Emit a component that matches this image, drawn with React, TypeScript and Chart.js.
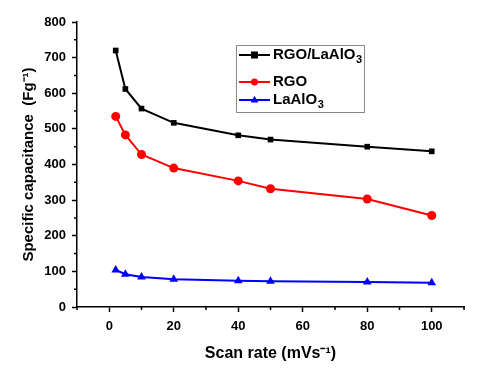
import React, { useEffect, useRef } from "react";
import { Chart, registerables } from "chart.js";
Chart.register(...registerables);

const scanRates = [2, 5, 10, 20, 40, 50, 80, 100];
const rgoLaAlO3 = [720, 612, 557, 517, 482, 470, 450, 437];
const rgo = [535, 483, 428, 390, 354, 332, 303, 257];
const laAlO3 = [104, 92, 84, 78, 74, 72, 70, 68];
const seriesNames = ["RGO/LaAlO3", "RGO", "LaAlO3"];
const xMajorTicks = [0, 20, 40, 60, 80, 100];
const xMinorTicks = [-10, 10, 30, 50, 70, 90, 110];
const yMinorTicks = [50, 150, 250, 350, 450, 550, 650, 750];

const FONT = "'Liberation Sans', Arial, sans-serif";

const minorTicksPlugin = {
  id: "minorTicks",
  afterDraw(chart: any) {
    const ctx = chart.ctx;
    const xs = chart.scales.x;
    const ys = chart.scales.y;
    ctx.save();
    ctx.strokeStyle = "#000";
    ctx.lineWidth = 1.5;
    ctx.beginPath();
    xMinorTicks.forEach((v) => {
      const px = xs.getPixelForValue(v);
      ctx.moveTo(px, ys.bottom);
      ctx.lineTo(px, ys.bottom + 3);
    });
    yMinorTicks.forEach((v) => {
      const py = ys.getPixelForValue(v);
      ctx.moveTo(xs.left, py);
      ctx.lineTo(xs.left - 3, py);
    });
    ctx.stroke();
    ctx.restore();
  },
};

function drawMarker(ctx: any, style: string, x: number, y: number, r: number) {
  ctx.beginPath();
  if (style === "rect") {
    ctx.rect(x - r, y - r, 2 * r, 2 * r);
  } else if (style === "circle") {
    ctx.arc(x, y, r, 0, Math.PI * 2);
  } else {
    ctx.moveTo(x, y - r * 1.2);
    ctx.lineTo(x + r * 1.1, y + r * 0.7);
    ctx.lineTo(x - r * 1.1, y + r * 0.7);
    ctx.closePath();
  }
  ctx.fill();
}

const legendPlugin = {
  id: "customLegend",
  afterDraw(chart: any) {
    const ctx = chart.ctx;
    const x0 = 236, y0 = 45, w = 128, h = 67;
    ctx.save();
    ctx.strokeStyle = "#888";
    ctx.lineWidth = 1;
    ctx.strokeRect(x0 + 0.5, y0 + 0.5, w, h);
    const rows = [55, 82, 100];
    chart.data.datasets.forEach((ds: any, i: number) => {
      const y = rows[i];
      ctx.strokeStyle = ds.borderColor;
      ctx.fillStyle = ds.borderColor;
      ctx.lineWidth = 2;
      ctx.beginPath();
      ctx.moveTo(239, y);
      ctx.lineTo(270, y);
      ctx.stroke();
      drawMarker(ctx, ds.pointStyle, 254.5, y, 3.5);
      const name: string = seriesNames[i];
      const m = name.match(/^(.*?)(\d)$/);
      ctx.fillStyle = "#000";
      ctx.textBaseline = "middle";
      ctx.textAlign = "left";
      ctx.font = `bold 15px ${FONT}`;
      const main = m ? m[1] : name;
      ctx.fillText(main, 273, y);
      if (m) {
        const tw = ctx.measureText(main).width;
        ctx.font = `bold 11px ${FONT}`;
        ctx.fillText(m[2], 273 + tw + 0.5, y + 5);
      }
    });
    ctx.restore();
  },
};

export default function App() {
  const ref = useRef<HTMLCanvasElement>(null);
  useEffect(() => {
    if (!ref.current) return;
    const mk = (data: number[]) => scanRates.map((x, i) => ({ x, y: data[i] }));
    const chart = new Chart(ref.current, {
      type: "line",
      data: {
        datasets: [
          { label: seriesNames[0], data: mk(rgoLaAlO3), borderColor: "#000", backgroundColor: "#000", pointStyle: "rect", pointRadius: 4, borderWidth: 2, pointBorderWidth: 0 },
          { label: seriesNames[1], data: mk(rgo), borderColor: "#ff0000", backgroundColor: "#ff0000", pointStyle: "circle", pointRadius: 4.5, borderWidth: 2, pointBorderWidth: 0 },
          { label: seriesNames[2], data: mk(laAlO3), borderColor: "#0000ff", backgroundColor: "#0000ff", pointStyle: "triangle", pointRadius: 5, borderWidth: 2, pointBorderWidth: 0 },
        ] as any,
      },
      options: {
        animation: false,
        responsive: false,
        layout: { padding: { top: 22, right: 19, left: 20, bottom: 0 } },
        plugins: { legend: { display: false }, tooltip: { enabled: false } },
        scales: {
          x: {
            type: "linear",
            min: -10,
            max: 110,
            afterBuildTicks: (s: any) => { s.ticks = xMajorTicks.map((v) => ({ value: v })); },
            afterFit: (s: any) => { s.height = 69; },
            border: { color: "#000", width: 1.5 },
            grid: { drawOnChartArea: false, tickLength: 5, tickColor: "#000", tickWidth: 1.5 },
            ticks: { color: "#000", font: { family: FONT, size: 13, weight: "bold" }, padding: 7 },
            title: { display: true, text: "Scan rate (mVs⁻¹)", color: "#000", font: { family: FONT, size: 16, weight: "bold" }, padding: { top: 4, bottom: 13 } },
          },
          y: {
            min: 0,
            max: 800,
            ticks: { stepSize: 100, color: "#000", font: { family: FONT, size: 13, weight: "bold" }, padding: 6 },
            afterFit: (s: any) => { s.width = 57; },
            border: { color: "#000", width: 1.5 },
            grid: { drawOnChartArea: false, tickLength: 5, tickColor: "#000", tickWidth: 1.5 },
            title: { display: true, text: "Specific capacitance  (Fg⁻¹)", color: "#000", font: { family: FONT, size: 15, weight: "bold" }, padding: { top: 0, bottom: 4 } },
          },
        },
      } as any,
      plugins: [minorTicksPlugin, legendPlugin],
    });
    return () => chart.destroy();
  }, []);
  return (
    <div style={{ position: "absolute", left: 0, top: 0, width: 483, height: 376, background: "#fff" }}>
      <canvas ref={ref} width={483} height={376} style={{ width: 483, height: 376, display: "block" }} />
    </div>
  );
}
